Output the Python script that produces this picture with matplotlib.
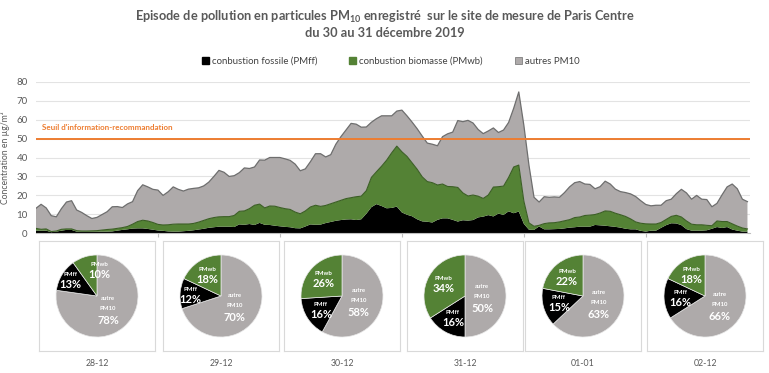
import numpy as np
import matplotlib
matplotlib.use("Agg")
import matplotlib.pyplot as plt
from matplotlib.patches import Patch

plt.rcParams["font.family"] = ["Lato", "DejaVu Sans"]
plt.rcParams["mathtext.fontset"] = "custom"
plt.rcParams["mathtext.rm"] = "Lato"
plt.rcParams["mathtext.bf"] = "Lato:bold"

# hourly levels, 28-12 00h -> 02-01 20h (stacked tops)
fossil = [
    1.4, 1.4, 1.4, 0.6, 0.9, 1.4, 1.8, 1.8, 0.9, 0.9,
    0.9, 0.9, 0.9, 0.9, 0.9, 1.0, 1.4, 1.8, 2.1, 2.5,
    2.6, 2.6, 2.3, 1.9, 1.5, 1.3, 1.0, 0.9, 0.9, 1.1,
    1.3, 1.6, 2.0, 2.4, 2.9, 3.2, 3.5, 3.5, 3.5, 3.3,
    4.7, 4.5, 4.9, 4.4, 5.5, 4.5, 4.4, 4.0, 3.7, 3.4,
    3.2, 2.7, 2.6, 3.6, 4.7, 4.5, 4.6, 5.4, 6.0, 6.6,
    7.0, 7.3, 7.4, 7.0, 7.4, 10.3, 13.8, 15.4, 14.4, 13.2,
    13.4, 14.1, 11.0, 9.8, 9.0, 7.4, 6.3, 6.1, 5.7, 7.1,
    7.9, 7.9, 7.1, 6.2, 6.9, 6.7, 7.0, 8.4, 8.8, 9.6,
    8.9, 10.4, 9.7, 11.6, 10.6, 11.5, 5.0, 1.9, 1.8, 3.6,
    2.1, 2.1, 2.2, 2.3, 2.6, 3.0, 3.2, 3.5, 3.5, 3.5,
    4.4, 4.2, 4.0, 3.7, 3.4, 3.0, 2.4, 2.1, 2.1, 1.3,
    0.9, 1.4, 1.4, 2.9, 4.3, 5.3, 5.2, 4.3, 2.2, 1.4,
    1.4, 1.4, 1.6, 2.4, 3.3, 2.8, 3.3, 2.0, 1.4, 0.9, 0.9,
]
fossil_biomass = [
    2.6, 2.1, 2.3, 0.9, 1.2, 2.1, 2.3, 2.3, 1.4, 1.2,
    1.2, 1.3, 1.4, 1.7, 2.0, 2.2, 2.6, 3.0, 3.6, 4.8,
    6.2, 6.9, 6.5, 5.7, 4.7, 4.4, 4.5, 4.8, 4.9, 4.9,
    4.9, 5.2, 5.9, 6.8, 7.7, 8.3, 8.7, 8.8, 8.8, 9.4,
    11.6, 11.8, 13.0, 14.8, 15.4, 13.4, 14.4, 14.3, 13.6, 13.0,
    12.6, 11.2, 10.3, 11.8, 13.9, 14.8, 14.2, 14.7, 15.6, 16.5,
    17.4, 18.3, 18.8, 19.3, 19.6, 22.5, 29.5, 32.5, 35.4, 38.6,
    42.5, 46.0, 43.0, 40.6, 37.2, 33.8, 29.8, 27.3, 26.7, 25.5,
    26.0, 24.7, 24.6, 24.2, 21.3, 19.7, 20.2, 19.6, 18.4, 20.2,
    24.4, 24.6, 24.9, 29.5, 35.0, 36.0, 17.0, 5.5, 3.7, 4.2,
    5.1, 5.5, 5.6, 6.0, 6.6, 7.2, 8.3, 8.6, 9.4, 9.6,
    9.9, 10.7, 11.8, 11.6, 10.6, 9.8, 8.9, 7.6, 6.0, 5.3,
    5.0, 4.9, 4.9, 5.7, 7.3, 8.9, 9.5, 8.6, 6.5, 4.8,
    4.5, 4.5, 4.2, 4.0, 6.5, 6.2, 6.2, 5.0, 3.8, 2.8, 2.3,
]
total = [
    13.2, 15.3, 13.4, 9.3, 8.7, 13.0, 16.5, 17.2, 12.3, 11.0,
    9.3, 7.8, 8.4, 9.9, 11.4, 14.0, 14.1, 13.6, 15.5, 16.7,
    22.5, 25.6, 24.5, 23.2, 22.8, 20.0, 21.9, 24.5, 23.2, 22.3,
    23.3, 23.7, 24.0, 25.0, 27.0, 30.0, 33.2, 32.2, 30.0, 30.4,
    32.0, 34.5, 34.2, 35.0, 38.7, 38.6, 40.0, 40.0, 40.0, 39.3,
    38.5, 36.5, 33.0, 34.0, 37.8, 42.0, 42.0, 40.3, 41.5, 47.0,
    51.0, 54.5, 58.0, 57.6, 56.0, 56.1, 58.6, 60.5, 62.0, 62.0,
    62.0, 64.5, 65.0, 62.0, 58.7, 55.2, 51.3, 47.6, 47.0, 46.2,
    51.0, 52.5, 53.4, 59.5, 58.9, 59.6, 58.2, 54.8, 52.6, 54.0,
    55.6, 53.2, 54.5, 58.5, 66.0, 74.6, 57.0, 36.0, 19.0, 16.5,
    19.3, 19.0, 19.2, 19.0, 21.5, 24.5, 26.7, 27.3, 26.0, 25.8,
    23.5, 24.6, 27.5, 26.0, 23.3, 22.0, 21.5, 20.8, 19.4, 17.2,
    15.2, 14.5, 14.8, 14.8, 17.2, 18.0, 20.9, 23.2, 21.3, 18.0,
    20.0, 18.0, 17.8, 14.0, 15.8, 20.3, 24.5, 26.0, 23.5, 18.0, 16.7,
]
threshold = 50

pie_days = ["28-12", "29-12", "30-12", "31-12", "01-01", "02-12"]
pie_autre = [78, 70, 58, 50, 63, 66]
pie_ff = [13, 12, 16, 16, 15, 16]
pie_wb = [10, 18, 26, 34, 22, 18]

C_FF = "#000000"
C_WB = "#548235"
C_AU = "#AEAAAA"
TXT = "#595959"

W, H = 769, 373
fig = plt.figure(figsize=(W / 100, H / 100), dpi=100)

fig.text(0.5, 1 - 17 / H,
         "Episode de pollution en particules PM$_{\\mathbf{10}}$ enregistré  sur le site de mesure de Paris Centre",
         ha="center", va="center", fontsize=9.2, fontweight="bold", color=TXT)
fig.text(0.5, 1 - 33 / H, "du 30 au 31 décembre 2019",
         ha="center", va="center", fontsize=9.2, fontweight="bold", color=TXT)

# main area chart
ax = fig.add_axes([36 / W, (H - 233.3) / H, (750 - 36) / W, (233.3 - 81.7) / H])
x = np.arange(len(total))
ff = np.array(fossil)
ffwb = np.array(fossil_biomass)
tot = np.array(total)
ax.stackplot(x, ff, ffwb - ff, tot - ffwb, colors=[C_FF, C_WB, C_AU], zorder=2)
ax.plot(x, ffwb, color="#3B5E25", lw=0.8, zorder=3)
ax.plot(x, tot, color="#6E6E6E", lw=0.9, zorder=3)

ax.axhline(threshold, color="#ED7D31", lw=1.4, zorder=4)
ax.text(1.2, 56, "Seuil d'information-recommandation", color="#ED7D31",
        fontsize=5.8, fontweight="bold", va="center", ha="left")

ax.set_xlim(0, 140.5)
ax.set_ylim(0, 80)
ax.set_yticks(range(0, 81, 10))
ax.tick_params(axis="y", length=0, labelsize=7, labelcolor=TXT, pad=6)
ax.set_xticks([24, 48, 72, 96, 120])
ax.set_xticklabels([])
ax.tick_params(axis="x", length=3, color="#BFBFBF", direction="out")
ax.grid(axis="y", color="#E3E3E3", lw=0.8, zorder=0)
ax.set_axisbelow(True)
for side in ["top", "right", "left"]:
    ax.spines[side].set_visible(False)
ax.spines["bottom"].set_color("#BFBFBF")
ax.set_ylabel("Concentration en µg/m³", fontsize=6.2, color=TXT)
ax.yaxis.set_label_coords(-0.037, 0.5)

handles = [Patch(color=C_FF, label="conbustion fossile (PMff)"),
           Patch(color=C_WB, label="conbustion biomasse (PMwb)"),
           Patch(facecolor=C_AU, edgecolor="#7F7F7F", lw=0.6, label="autres PM10")]
leg = fig.legend(handles=handles, loc="center", bbox_to_anchor=(0.508, 1 - 61 / H), ncol=3,
                 frameon=False, fontsize=6.9, handlelength=0.7, handleheight=0.7,
                 handletextpad=0.3, columnspacing=3.4)
for t in leg.get_texts():
    t.set_color("#404040")

# daily pies
box_left = [39, 163, 284, 407, 525, 647]
box_w, box_h, box_top = 116, 110, 241
for i, day in enumerate(pie_days):
    pax = fig.add_axes([box_left[i] / W, (H - box_top - box_h) / H, box_w / W, box_h / H])
    vals = [pie_autre[i], pie_ff[i], pie_wb[i]]
    wedges, _ = pax.pie(vals, colors=[C_AU, C_FF, C_WB], startangle=90, counterclock=False,
                        radius=41, wedgeprops=dict(linewidth=0.5, edgecolor="#E8E8E8"))
    pax.set_xlim(-box_w / 2, box_w / 2)
    pax.set_ylim(-box_h / 2, box_h / 2)
    pax.set_aspect("equal")
    pax.set_frame_on(True)
    for sp in pax.spines.values():
        sp.set_visible(True)
        sp.set_color("#D9D9D9")
        sp.set_linewidth(0.8)
    pax.set_xticks([])
    pax.set_yticks([])

    names = [("autre", "PM10"), ("PMff",), ("PMwb",)]
    for k, (w, nm, v) in enumerate(zip(wedges, names, vals)):
        ang = np.deg2rad((w.theta1 + w.theta2) / 2)
        if k == 0:
            d = 17
        elif v < 15:
            d = 31
        else:
            d = 25
        cx, cy = d * np.cos(ang), d * np.sin(ang)
        if k == 2 and v < 12:
            # narrow wedge: label pushed onto the wedge edge, as in the source
            cx, cy = 2, 27
        if len(nm) == 2:
            pax.text(cx, cy + 10, nm[0], ha="center", va="center", fontsize=4.3,
                     fontweight="bold", color="white")
            pax.text(cx, cy, nm[1], ha="center", va="center", fontsize=4.3,
                     fontweight="bold", color="white")
            pax.text(cx, cy - 12, f"{v}%", ha="center", va="center", fontsize=8,
                     fontweight="bold", color="white")
        else:
            pax.text(cx, cy + 5, nm[0], ha="center", va="center", fontsize=4.3,
                     fontweight="bold", color="white")
            pax.text(cx, cy - 5, f"{v}%", ha="center", va="center", fontsize=8,
                     fontweight="bold", color="white")

    fig.text((box_left[i] + box_w / 2) / W, 1 - 363 / H, day, ha="center", va="center",
             fontsize=6.3, color=TXT)

fig.savefig("out.png", dpi=100)
plt.close(fig)
